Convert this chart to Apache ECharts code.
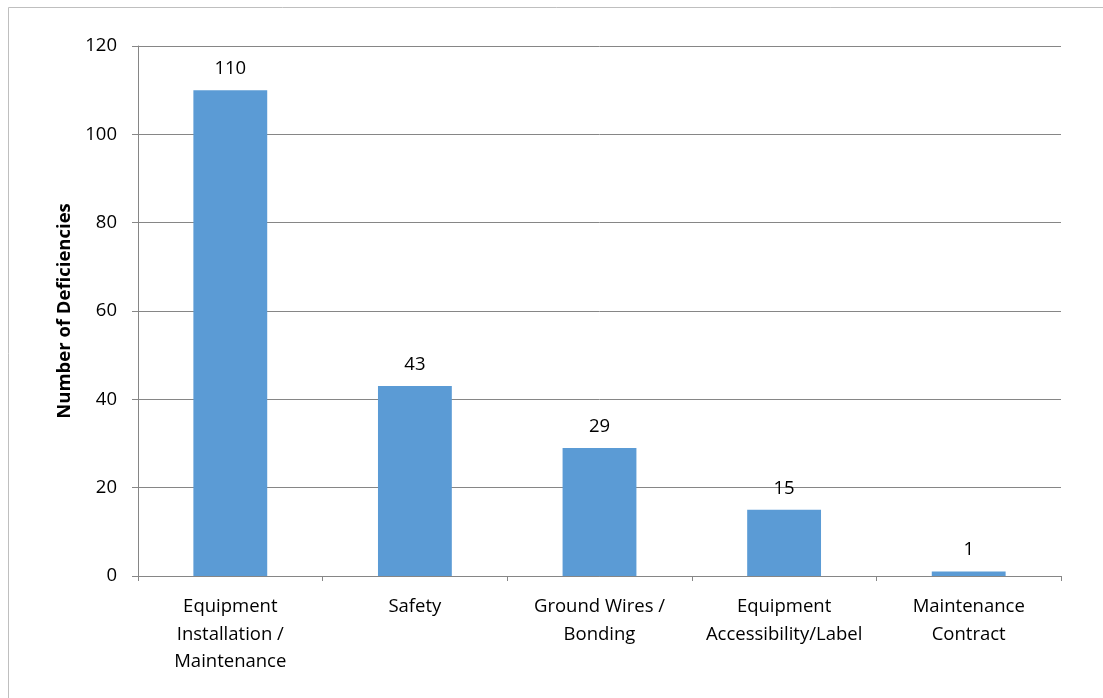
<!DOCTYPE html>
<html><head><meta charset="utf-8">
<script src="https://cdn.jsdelivr.net/npm/echarts@6/dist/echarts.min.js"></script>
<style>html,body{margin:0;padding:0;background:#fff}#c{width:1103px;height:698px}</style>
</head><body><div id="c"></div>
<script>
const categories = ["Equipment\nInstallation /\nMaintenance", "Safety", "Ground Wires /\nBonding", "Equipment\nAccessibility/Label", "Maintenance\nContract"];
const values = [110, 43, 29, 15, 1];
const yTicks = [0, 20, 40, 60, 80, 100, 120];
const yTitle = "Number of Deficiencies";
const font = "'Open Sans', 'Noto Sans', sans-serif";
const chart = echarts.init(document.getElementById('c'));
chart.setOption({
  animation: false,
  graphic: [{type:'rect', shape:{x:8.5,y:7.5,width:1300,height:900}, style:{fill:'none', stroke:'#bfbfbf', lineWidth:1}, silent:true}],
  grid: {left:138, right:42, top:46, bottom:122, containLabel:false},
  xAxis: {
    type:'category', data:categories,
    axisLine:{lineStyle:{color:'#868686'}},
    axisTick:{show:true, length:5, lineStyle:{color:'#868686'}, alignWithLabel:false},
    axisLabel:{color:'#000', fontFamily:font, fontSize:18.5, lineHeight:27.5, margin:17, interval:0}
  },
  yAxis: {
    type:'value', min:yTicks[0], max:yTicks[yTicks.length-1], interval:20,
    name: yTitle, nameLocation:'middle', nameGap:62,
    nameTextStyle:{color:'#000', fontFamily:font, fontSize:18.5, fontWeight:'bold'},
    axisLine:{show:true, lineStyle:{color:'#868686'}},
    axisTick:{show:true, length:6, lineStyle:{color:'#868686'}},
    splitLine:{lineStyle:{color:'#868686'}},
    axisLabel:{color:'#000', fontFamily:font, fontSize:18.5, margin:21}
  },
  series: [{
    type:'bar', data:values, barWidth:'40%',
    itemStyle:{color:'#5B9BD5'},
    label:{show:true, position:'top', distance:12, color:'#000', fontFamily:font, fontSize:18.5}
  }]
});
</script></body></html>
